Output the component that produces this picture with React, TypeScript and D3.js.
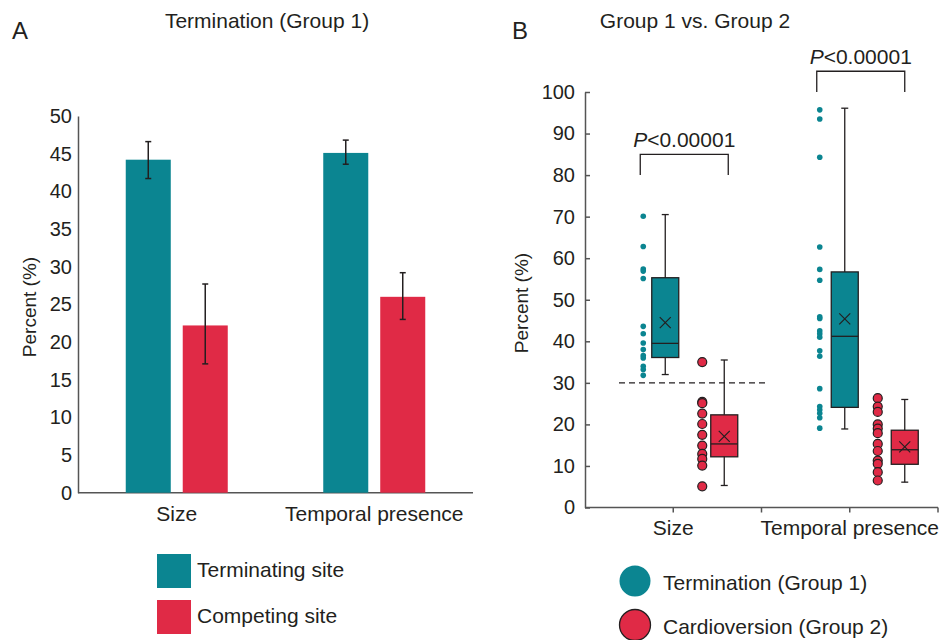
import React, { useEffect, useRef } from "react";
import * as d3 from "d3";

// panel A: mean percent with error bars
const categories = ["Size", "Temporal presence"];
const siteNames = ["Terminating site", "Competing site"];
const terminatingMean = [44.2, 45.1];
const terminatingLow = [41.7, 43.6];
const terminatingHigh = [46.6, 46.8];
const competingMean = [22.2, 26.0];
const competingLow = [17.1, 23.0];
const competingHigh = [27.7, 29.2];
const ticksA = [0, 5, 10, 15, 20, 25, 30, 35, 40, 45, 50];

// panel B: box plots  [min, q1, median, q3, max, mean]
const groupNames = ["Termination (Group 1)", "Cardioversion (Group 2)"];
const group1Size = [32.0, 36.1, 39.5, 55.3, 70.5, 44.5];
const group2Size = [5.3, 12.2, 15.3, 22.3, 35.5, 17.1];
const group1Temporal = [18.9, 24.1, 41.2, 56.7, 96.1, 45.4];
const group2Temporal = [6.1, 10.4, 13.9, 18.6, 26.0, 14.6];

const group1SizePoints = [70.1, 62.8, 57.4, 56.9, 55.1, 43.6, 41.8, 39.6, 38.0, 36.6, 36.0, 34.0, 33.2, 31.8];
const group2SizePoints = [35.0, 25.4, 25.1, 22.6, 20.1, 17.5, 14.9, 12.9, 11.7, 10.1, 5.1];
const group1TemporalPoints = [95.7, 93.5, 84.3, 62.7, 57.3, 54.7, 45.9, 45.5, 42.5, 41.8, 41.0, 37.7, 36.4, 28.6, 24.3, 23.5, 22.7, 21.6, 19.1];
const group2TemporalPoints = [26.3, 24.3, 23.0, 20.0, 19.0, 17.9, 15.3, 13.6, 11.3, 10.5, 8.5, 6.5];

const pLabels = ["<0.00001", "<0.00001"];
const bracketLow = [80, 100];
const bracketHigh = [85, 105];
const threshold = 30;
const ticksB = [0, 10, 20, 30, 40, 50, 60, 70, 80, 90, 100];

const TEAL = "#0b8591";
const RED = "#e02a46";
const INK = "#231f20";
const AXIS = "#555";
const FONT = "'Liberation Sans', Arial, Helvetica, sans-serif";
const FS = 21; // label text size
const TS = 20; // tick text size

const App = () => {
  const ref = useRef<SVGSVGElement>(null);

  useEffect(() => {
    d3.select("body").style("margin", 0);
    const svg = d3.select(ref.current);
    svg.selectAll("*").remove();
    svg.attr("font-family", FONT);

    // ---------- panel A ----------
    const xA = d3.scaleBand().domain(categories).range([78, 473]);
    const inner = d3.scaleBand().domain(["0", "1"]).range([-51, 51]).paddingInner(0.21);
    const yA = d3.scaleLinear().domain([0, 50]).range([492.7, 116]);

    const gA = svg.append("g");
    gA.append("text").attr("x", 12).attr("y", 39).attr("font-size", 24).attr("fill", INK).text("A");
    gA.append("text").attr("x", 267).attr("y", 28).attr("text-anchor", "middle")
      .attr("font-size", FS).attr("fill", INK).text("Termination (Group 1)");

    const axA = gA.append("g").attr("transform", "translate(78,0)")
      .call(d3.axisLeft(yA).tickValues(ticksA).tickSize(0).tickPadding(6));
    axA.select(".domain").attr("stroke", AXIS).attr("stroke-width", 1.5);
    axA.selectAll("text").attr("font-size", TS).attr("fill", INK).attr("font-family", FONT);

    gA.append("line").attr("x1", 78).attr("x2", 473).attr("y1", yA(0)).attr("y2", yA(0))
      .attr("stroke", AXIS).attr("stroke-width", 1.5);

    gA.append("text").attr("transform", "translate(36,307) rotate(-90)")
      .attr("text-anchor", "middle").attr("font-size", 19).attr("fill", INK).text("Percent (%)");

    const seriesA = [
      { color: TEAL, mean: terminatingMean, low: terminatingLow, high: terminatingHigh },
      { color: RED, mean: competingMean, low: competingLow, high: competingHigh },
    ];
    seriesA.forEach((s, si) => {
      categories.forEach((c, ci) => {
        const cx = xA(c)! + xA.bandwidth() / 2;
        const x0 = cx + inner(String(si))!;
        const w = inner.bandwidth();
        gA.append("rect").attr("x", x0).attr("width", w)
          .attr("y", yA(s.mean[ci])).attr("height", yA(0) - yA(s.mean[ci])).attr("fill", s.color);
        const mx = x0 + w / 2;
        gA.append("line").attr("x1", mx).attr("x2", mx).attr("y1", yA(s.low[ci])).attr("y2", yA(s.high[ci]))
          .attr("stroke", INK).attr("stroke-width", 1.5);
        [s.low[ci], s.high[ci]].forEach((v) => {
          gA.append("line").attr("x1", mx - 3).attr("x2", mx + 3).attr("y1", yA(v)).attr("y2", yA(v))
            .attr("stroke", INK).attr("stroke-width", 1.5);
        });
      });
      gA.append("text").attr("x", xA(categories[si])! + xA.bandwidth() / 2).attr("y", 521)
        .attr("text-anchor", "middle").attr("font-size", FS).attr("fill", INK).text(categories[si]);
    });

    // legend A
    siteNames.forEach((name, i) => {
      const y0 = 554 + i * 46;
      gA.append("rect").attr("x", 157).attr("y", y0).attr("width", 34).attr("height", 34)
        .attr("fill", i === 0 ? TEAL : RED);
      gA.append("text").attr("x", 197).attr("y", y0 + 23).attr("font-size", FS).attr("fill", INK).text(name);
    });

    // ---------- panel B ----------
    const xB = d3.scaleBand().domain(categories).range([585, 938]);
    const yB = d3.scaleLinear().domain([0, 100]).range([507.5, 92]);
    const gB = svg.append("g");

    gB.append("text").attr("x", 512).attr("y", 39).attr("font-size", 24).attr("fill", INK).text("B");
    gB.append("text").attr("x", 695).attr("y", 28).attr("text-anchor", "middle")
      .attr("font-size", FS).attr("fill", INK).text("Group 1 vs. Group 2");

    const axB = gB.append("g").attr("transform", "translate(585,0)")
      .call(d3.axisLeft(yB).tickValues(ticksB).tickSizeInner(-5).tickSizeOuter(0).tickPadding(10));
    axB.select(".domain").attr("stroke", AXIS).attr("stroke-width", 1.5);
    axB.selectAll(".tick line").attr("stroke", AXIS).attr("stroke-width", 1.5);
    axB.selectAll("text").attr("font-size", TS).attr("fill", INK).attr("font-family", FONT);

    gB.append("line").attr("x1", 585).attr("x2", 938).attr("y1", yB(0)).attr("y2", yB(0))
      .attr("stroke", AXIS).attr("stroke-width", 1.5);
    const xTicks = categories.flatMap((c) => [xB(c)! + xB.bandwidth() / 2, xB(c)! + xB.bandwidth()]);
    xTicks.forEach((t) => {
      gB.append("line").attr("x1", t).attr("x2", t).attr("y1", yB(0)).attr("y2", yB(0) + 5)
        .attr("stroke", AXIS).attr("stroke-width", 1.5);
    });
    categories.forEach((c) => {
      gB.append("text").attr("x", xB(c)! + xB.bandwidth() / 2).attr("y", 535)
        .attr("text-anchor", "middle").attr("font-size", FS).attr("fill", INK).text(c);
    });

    gB.append("text").attr("transform", "translate(528,303) rotate(-90)")
      .attr("text-anchor", "middle").attr("font-size", 19).attr("fill", INK).text("Percent (%)");

    // dashed threshold
    gB.append("line").attr("x1", 619).attr("x2", 768).attr("y1", yB(threshold)).attr("y2", yB(threshold))
      .attr("stroke", INK).attr("stroke-width", 1.3).attr("stroke-dasharray", "6,4");

    const boxes = [
      { cat: 0, stats: group1Size, pts: group1SizePoints, color: TEAL, dotOff: -30, boxOff: -8, r: 2.8, stroke: "none" },
      { cat: 0, stats: group2Size, pts: group2SizePoints, color: RED, dotOff: 29, boxOff: 51, r: 4.5, stroke: INK },
      { cat: 1, stats: group1Temporal, pts: group1TemporalPoints, color: TEAL, dotOff: -30, boxOff: -5, r: 2.8, stroke: "none" },
      { cat: 1, stats: group2Temporal, pts: group2TemporalPoints, color: RED, dotOff: 28, boxOff: 55, r: 4.5, stroke: INK },
    ];
    const bw = 27;
    boxes.forEach((b) => {
      const cx = xB(categories[b.cat])! + xB.bandwidth() / 2;
      const bx = cx + b.boxOff;
      const [mn, q1, md, q3, mx, mean] = b.stats;
      // whiskers
      gB.append("line").attr("x1", bx).attr("x2", bx).attr("y1", yB(mn)).attr("y2", yB(mx))
        .attr("stroke", INK).attr("stroke-width", 1.3);
      [mn, mx].forEach((v) => {
        gB.append("line").attr("x1", bx - 3.5).attr("x2", bx + 3.5).attr("y1", yB(v)).attr("y2", yB(v))
          .attr("stroke", INK).attr("stroke-width", 1.3);
      });
      gB.append("rect").attr("x", bx - bw / 2).attr("width", bw).attr("y", yB(q3)).attr("height", yB(q1) - yB(q3))
        .attr("fill", b.color).attr("stroke", INK).attr("stroke-width", 1.3);
      gB.append("line").attr("x1", bx - bw / 2).attr("x2", bx + bw / 2).attr("y1", yB(md)).attr("y2", yB(md))
        .attr("stroke", INK).attr("stroke-width", 1.3);
      const my = yB(mean);
      const h = 5.5;
      gB.append("path").attr("d", `M${bx - h},${my - h}L${bx + h},${my + h}M${bx - h},${my + h}L${bx + h},${my - h}`)
        .attr("stroke", INK).attr("stroke-width", 1.2).attr("fill", "none");
      gB.append("g").selectAll("circle").data(b.pts).join("circle")
        .attr("cx", cx + b.dotOff).attr("cy", (d) => yB(d)).attr("r", b.r)
        .attr("fill", b.color).attr("stroke", b.stroke).attr("stroke-width", 1.2);
    });

    // significance brackets
    categories.forEach((c, i) => {
      const cx = xB(c)! + xB.bandwidth() / 2;
      const l = cx - 33;
      const r = cx + 55;
      gB.append("path")
        .attr("d", `M${l},${yB(bracketLow[i])}V${yB(bracketHigh[i])}H${r}V${yB(bracketLow[i])}`)
        .attr("fill", "none").attr("stroke", INK).attr("stroke-width", 1.3);
      const t = gB.append("text").attr("x", (l + r) / 2).attr("y", yB(bracketHigh[i]) - 7)
        .attr("text-anchor", "middle").attr("font-size", FS).attr("fill", INK);
      t.append("tspan").attr("font-style", "italic").text("P");
      t.append("tspan").text(pLabels[i]);
    });

    // legend B
    groupNames.forEach((name, i) => {
      const cy = 581 + i * 44;
      gB.append("circle").attr("cx", 635).attr("cy", cy).attr("r", 15.5)
        .attr("fill", i === 0 ? TEAL : RED).attr("stroke", i === 0 ? "none" : INK).attr("stroke-width", 1.3);
      gB.append("text").attr("x", 663).attr("y", cy + 9).attr("font-size", FS).attr("fill", INK).text(name);
    });
  }, []);

  return <svg ref={ref} width={940} height={640} style={{ display: "block" }} />;
};

export default App;
